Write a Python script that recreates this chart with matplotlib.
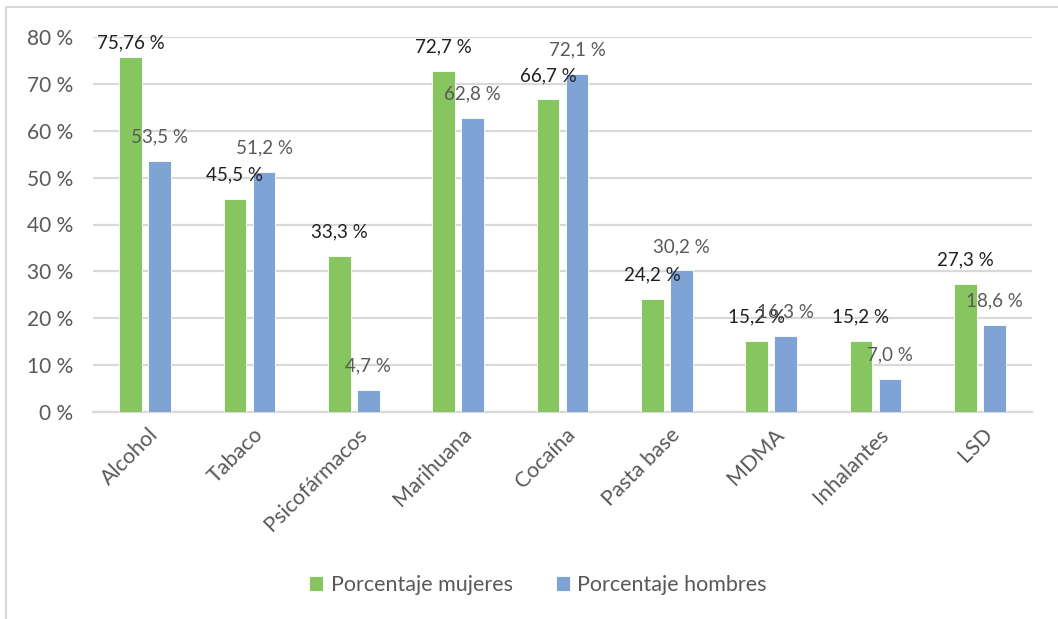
import matplotlib.pyplot as plt
import matplotlib.transforms as mtransforms
import numpy as np
from matplotlib.patches import Rectangle

plt.rcParams['font.family'] = ['Lato', 'DejaVu Sans']

# Data
categories = ["Alcohol", "Tabaco", "Psicofármacos", "Marihuana", "Cocaína",
              "Pasta base", "MDMA", "Inhalantes", "LSD"]
mujeres = [75.76, 45.5, 33.3, 72.7, 66.7, 24.2, 15.2, 15.2, 27.3]
hombres = [53.5, 51.2, 4.7, 62.8, 72.1, 30.2, 16.3, 7.0, 18.6]
mujeres_labels = ["75,76 %", "45,5 %", "33,3 %", "72,7 %", "66,7 %",
                  "24,2 %", "15,2 %", "15,2 %", "27,3 %"]
hombres_labels = ["53,5 %", "51,2 %", "4,7 %", "62,8 %", "72,1 %",
                  "30,2 %", "16,3 %", "7,0 %", "18,6 %"]
yticks = [0, 10, 20, 30, 40, 50, 60, 70, 80]

green = "#86C55F"
blue = "#7FA3D5"
grid_c = "#D9D9D9"
text_c = "#595959"

W, H = 1058, 619
fig = plt.figure(figsize=(W / 100, H / 100), dpi=100)

# Chart border (extends past the right and bottom edges of the image)
fig.patches.append(Rectangle((6 / W, -0.1), 1.2, 1 - 7 / H + 0.1,
                             transform=fig.transFigure, fill=False,
                             edgecolor=grid_c, linewidth=1.5))

ax = fig.add_axes([93 / W, 1 - 412 / H, (1032 - 93) / W, (412 - 37) / H])

x = np.arange(len(categories))
bw = 0.22
off = 0.139
ax.bar(x - off, mujeres, bw, color=green, edgecolor="white", linewidth=0.6,
       label="Porcentaje mujeres", zorder=3)
ax.bar(x + off, hombres, bw, color=blue, edgecolor="white", linewidth=0.6,
       label="Porcentaje hombres", zorder=3)

# data labels ~24 px above each bar (clamped near the top of the plot)
for xi, v, lab in zip(x, mujeres, mujeres_labels):
    ax.text(xi - off, min(v + 5.1, 78.7), lab, ha="center", va="center",
            fontsize=13.5, color="#1F1F1F", zorder=4)
for xi, v, lab in zip(x, hombres, hombres_labels):
    ax.text(xi + off, min(v + 5.1, 78.7), lab, ha="center", va="center",
            fontsize=13.5, color=text_c, zorder=4)

ax.set_xlim(-0.5, len(categories) - 0.5)
ax.set_ylim(0, 80)
ax.set_yticks(yticks)
ax.set_yticklabels([f"{t} %" for t in yticks], fontsize=15, color=text_c)
ax.tick_params(axis="y", length=0, pad=14)
ax.grid(axis="y", color=grid_c, linewidth=1.6, zorder=0)
ax.set_axisbelow(True)
for s in ["top", "right", "left"]:
    ax.spines[s].set_visible(False)
ax.spines["bottom"].set_color(grid_c)
ax.spines["bottom"].set_linewidth(1.6)

ax.set_xticks(x)
ax.set_xticklabels(categories, rotation=45, ha="right", va="top",
                   rotation_mode="anchor", fontsize=15.5, color=text_c)
ax.tick_params(axis="x", length=0, pad=9)
shift = mtransforms.ScaledTranslation(3 / 100, 0, fig.dpi_scale_trans)
for lbl in ax.get_xticklabels():
    lbl.set_transform(lbl.get_transform() + shift)

fig.legend(loc="center", bbox_to_anchor=(538 / W, 1 - 585 / H), ncol=2,
           frameon=False, prop={"size": 15.5},
           labelcolor=text_c, handlelength=0.65, handleheight=0.65,
           handletextpad=0.35, columnspacing=2.0)

fig.savefig("out.png", dpi=100)
